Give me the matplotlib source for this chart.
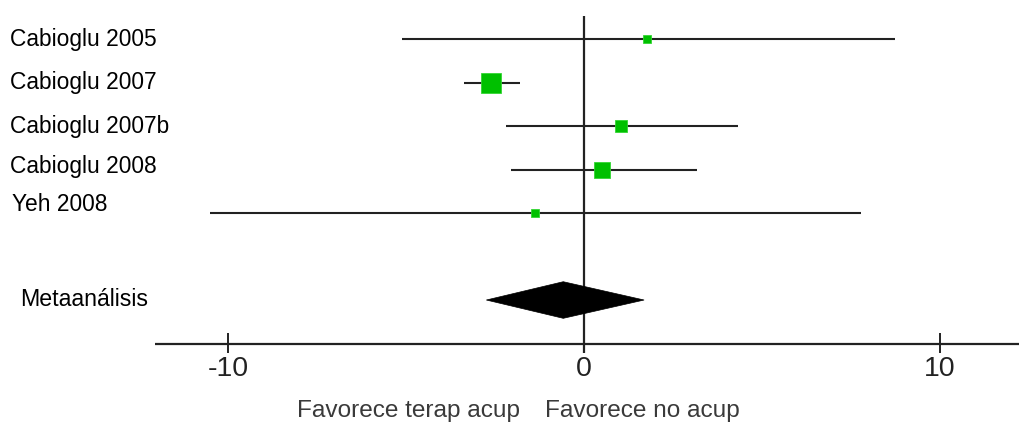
import matplotlib
matplotlib.use("Agg")
import matplotlib.pyplot as plt
from matplotlib.patches import Polygon
import numpy as np

# ---- data ----
studies = ["Cabioglu 2005", "Cabioglu 2007", "Cabioglu 2007b", "Cabioglu 2008", "Yeh 2008"]
estimate = [1.77, -2.61, 1.03, 0.51, -1.36]
ci_low = [-5.11, -3.37, -2.20, -2.06, -10.51]
ci_high = [8.74, -1.80, 4.33, 3.17, 7.78]
weights = [7, 41, 19, 26, 7]
meta_label = "Metaanálisis"
meta_est, meta_low, meta_high = -0.58, -2.74, 1.69
xticks = [-10, 0, 10]
left_label = "Favorece terap acup"
right_label = "Favorece no acup"

regular = "Liberation Sans"

fig = plt.figure(figsize=(10.19, 4.46), dpi=100)
ax = fig.add_axes([0, 0, 1, 1])
ax.set_xlim(-16.40, 12.22)
ax.set_ylim(9.356, -0.897)
ax.axis("off")

line_col = "#222222"
green = "#00c000"
meta_y = 6.0
axis_y = 7.01

# axis line and vertical zero line
ax.plot([-12.05, 12.22], [axis_y, axis_y], color=line_col, lw=1.6, solid_capstyle="butt")
ax.plot([0, 0], [-0.53, 7.22], color=line_col, lw=1.6, solid_capstyle="butt")
for t in xticks:
    ax.plot([t, t], [6.76, 7.22], color=line_col, lw=1.4, solid_capstyle="butt")
    ax.text(t, 7.58, f"{t}", ha="center", va="center", fontsize=20.5,
            family=regular, color="#222222")

label_dy = [0.02, 0.0, 0.0, -0.06, -0.2]
label_dx = [-16.12, -16.12, -16.12, -16.12, -16.06]
for i, (name, e, lo, hi, w) in enumerate(zip(studies, estimate, ci_low, ci_high, weights)):
    ax.plot([lo, hi], [i, i], color=line_col, lw=1.5, solid_capstyle="butt", zorder=2)
    side_px = 2.97 * np.sqrt(w)
    ax.plot([e], [i], marker="s", markersize=side_px * 0.72, color=green,
            markeredgecolor="#33d633", markeredgewidth=0.6, zorder=3)
    ax.text(label_dx[i], i + label_dy[i], name, ha="left", va="center",
            fontsize=16.4, family=regular, color="black")

h = 18.3 / 43.5
diamond = Polygon([[meta_low, meta_y], [meta_est, meta_y - h], [meta_high, meta_y],
                   [meta_est, meta_y + h]], closed=True, facecolor="black",
                  edgecolor="black", lw=0.5, zorder=3)
ax.add_patch(diamond)
ax.text(-15.84, meta_y - 0.02, meta_label, ha="left", va="center", fontsize=16.7,
        family=regular, color="black")

ax.text(-1.80, 8.55, left_label, ha="right", va="center", fontsize=17.6,
        family=regular, color="#3a3a3a")
ax.text(-1.10, 8.55, right_label, ha="left", va="center", fontsize=17.6,
        family=regular, color="#3a3a3a")

fig.savefig("out.png", dpi=100)
